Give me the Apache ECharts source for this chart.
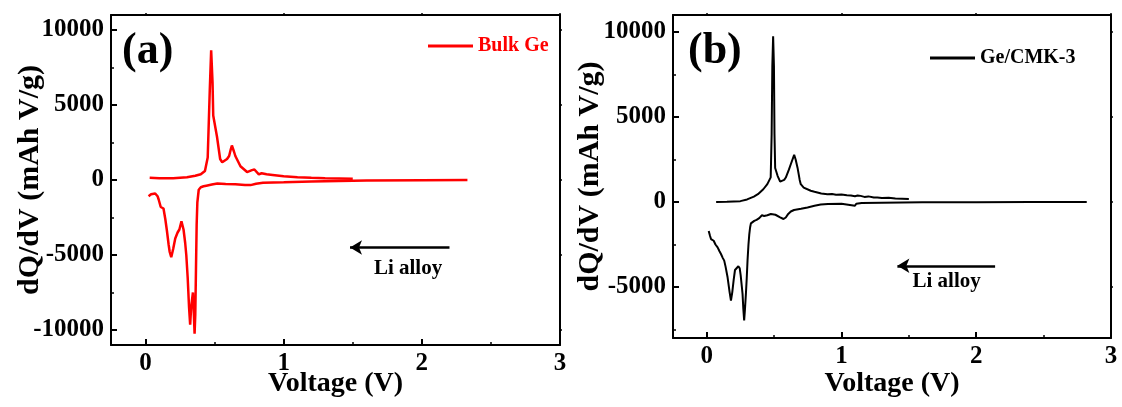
<!DOCTYPE html>
<html><head><meta charset="utf-8">
<script src="https://cdn.jsdelivr.net/npm/echarts@6/dist/echarts.min.js"></script>
<style>html,body{margin:0;padding:0;background:#fff}#c{width:1122px;height:407px}</style>
</head><body><div id="c"></div>
<script>
// ---- Data ----
const xTicks = [0, 1, 2, 3];
const xMinorTicks = [0.5, 1.5, 2.5];
const yTicksA = [-10000, -5000, 0, 5000, 10000];
const yMinorA = [-7500, -2500, 2500, 7500];
const yTicksB = [-5000, 0, 5000, 10000];
const yMinorB = [-7500, -2500, 2500, 7500];

const bulkGeCharge = [[0.03,150],[0.1,120],[0.2,110],[0.3,180],[0.36,280],[0.40,380],[0.43,600],[0.45,1500],[0.465,6000],[0.475,8650],[0.485,6500],[0.49,4300],[0.517,2900],[0.54,1400],[0.555,1180],[0.59,1400],[0.605,1600],[0.617,2050],[0.625,2300],[0.64,1900],[0.65,1600],[0.687,920],[0.735,530],[0.77,660],[0.788,700],[0.82,370],[0.84,450],[0.876,380],[0.92,340],[1.0,250],[1.1,190],[1.2,150],[1.3,120],[1.4,100],[1.5,80]];
const bulkGeDischarge = [[2.33,0],[2.0,-10],[1.6,-30],[1.4,-60],[1.2,-100],[1.0,-150],[0.85,-180],[0.80,-250],[0.76,-340],[0.72,-330],[0.65,-280],[0.58,-260],[0.52,-230],[0.48,-300],[0.44,-380],[0.42,-420],[0.40,-480],[0.385,-650],[0.375,-1500],[0.37,-3000],[0.365,-6000],[0.36,-9000],[0.355,-10250],[0.35,-9000],[0.343,-7500],[0.338,-7400],[0.33,-8500],[0.323,-9650],[0.315,-8500],[0.305,-6500],[0.295,-5000],[0.287,-4200],[0.275,-3300],[0.26,-2750],[0.245,-3300],[0.232,-3500],[0.215,-3900],[0.20,-4600],[0.186,-5150],[0.175,-4800],[0.167,-4300],[0.155,-3400],[0.143,-2600],[0.13,-1900],[0.11,-1800],[0.095,-1300],[0.087,-1080],[0.07,-900],[0.058,-850],[0.04,-950],[0.022,-1080]];

const geCmkCharge = [[0.07,0],[0.15,10],[0.25,50],[0.3,150],[0.35,320],[0.38,460],[0.42,750],[0.45,1050],[0.475,1450],[0.482,4000],[0.487,8000],[0.493,9750],[0.499,8000],[0.503,4000],[0.508,2000],[0.526,1540],[0.545,1200],[0.557,1150],[0.575,1300],[0.587,1440],[0.61,1900],[0.624,2220],[0.649,2770],[0.66,2500],[0.674,2020],[0.69,1300],[0.698,1050],[0.72,850],[0.772,660],[0.80,600],[0.85,500],[0.896,460],[0.93,470],[0.96,430],[1.0,440],[1.04,400],[1.07,380],[1.1,340],[1.12,380],[1.142,360],[1.17,300],[1.2,330],[1.24,260],[1.266,260],[1.3,230],[1.35,250],[1.4,200],[1.45,190],[1.5,170]];
const geCmkDischarge = [[2.82,0],[2.4,-5],[2.0,-10],[1.6,-20],[1.3,-40],[1.15,-60],[1.11,-100],[1.10,-220],[1.09,-110],[1.0,-100],[0.9,-120],[0.846,-150],[0.8,-220],[0.748,-320],[0.7,-400],[0.648,-470],[0.624,-560],[0.605,-700],[0.587,-910],[0.57,-1000],[0.557,-1070],[0.545,-900],[0.532,-820],[0.51,-750],[0.476,-710],[0.45,-780],[0.426,-820],[0.41,-780],[0.39,-950],[0.37,-1050],[0.353,-1110],[0.34,-1150],[0.328,-1260],[0.322,-1500],[0.316,-1900],[0.31,-2500],[0.303,-3450],[0.297,-4500],[0.291,-5400],[0.284,-6300],[0.278,-6970],[0.272,-6300],[0.266,-5400],[0.261,-5000],[0.252,-4300],[0.245,-3900],[0.235,-3780],[0.222,-3750],[0.21,-4000],[0.2,-4600],[0.19,-5300],[0.18,-5800],[0.17,-5300],[0.155,-4430],[0.14,-3800],[0.13,-3450],[0.12,-3300],[0.106,-3060],[0.095,-2900],[0.081,-2670],[0.065,-2500],[0.052,-2280],[0.032,-2180],[0.025,-2000],[0.015,-1700]];

const arrowA = {from: [2.2, -4500], to: [1.48, -4500], text: [1.9, -5900]};
const arrowB = {from: [2.14, -3750], to: [1.415, -3750], text: [1.78, -4700]};

// ---- Chart ----
const FONT = 'Liberation Serif';
const chart = echarts.init(document.getElementById('c'));
const plain = v => String(v);

function xAxes(grid, gap) {
  return [
    {type:'value', gridIndex:grid, min:-0.25, max:3, position:'bottom',
     name:'Voltage (V)', nameLocation:'middle', nameGap:gap, nameMoveOverlap:false,
     nameTextStyle:{fontFamily:FONT, fontWeight:'bold', fontSize:28, color:'#000'},
     axisLine:{onZero:false, lineStyle:{color:'#000', width:2}},
     axisTick:{inside:true, length:6, lineStyle:{width:2, color:'#000'}, customValues:xTicks},
     axisLabel:{fontFamily:FONT, fontWeight:'bold', fontSize:25, color:'#000', margin:6, customValues:xTicks, formatter:plain},
     splitLine:{show:false}},
    {type:'value', gridIndex:grid, min:-0.25, max:3, position:'bottom',
     axisLine:{show:false, onZero:false}, axisLabel:{show:false}, splitLine:{show:false},
     axisTick:{inside:true, length:3, lineStyle:{width:1.5, color:'#000'}, customValues:xMinorTicks}},
    {type:'value', gridIndex:grid, min:-0.25, max:3, position:'top',
     axisLine:{onZero:false, lineStyle:{color:'#000', width:2}}, axisLabel:{show:false}, splitLine:{show:false},
     axisTick:{inside:false, length:2, lineStyle:{width:1.5, color:'#000'}, customValues:xTicks}}
  ];
}
function yAxes(grid, min, max, ticks, minor, gap) {
  return [
    {type:'value', gridIndex:grid, min:min, max:max, position:'left',
     name:'dQ/dV (mAh V/g)', nameLocation:'middle', nameGap:gap, nameMoveOverlap:false,
     nameTextStyle:{fontFamily:FONT, fontWeight:'bold', fontSize:30, color:'#000'},
     axisLine:{onZero:false, lineStyle:{color:'#000', width:2}},
     axisTick:{inside:true, length:6, lineStyle:{width:2, color:'#000'}, customValues:ticks},
     axisLabel:{fontFamily:FONT, fontWeight:'bold', fontSize:25, color:'#000', margin:7, customValues:ticks, formatter:plain},
     splitLine:{show:false}},
    {type:'value', gridIndex:grid, min:min, max:max, position:'left',
     axisLine:{show:false, onZero:false}, axisLabel:{show:false}, splitLine:{show:false},
     axisTick:{inside:true, length:3, lineStyle:{width:1.5, color:'#000'}, customValues:minor}},
    {type:'value', gridIndex:grid, min:min, max:max, position:'right',
     axisLine:{onZero:false, lineStyle:{color:'#000', width:2}}, axisLabel:{show:false}, splitLine:{show:false},
     axisTick:{inside:false, length:2, lineStyle:{width:1.5, color:'#000'}, customValues:ticks}}
  ];
}

function arrowMark(a) {
  return {
    silent:true, symbol:['none','arrow'], symbolSize:[11,12],
    lineStyle:{color:'#000', width:2.5, type:'solid'}, label:{show:false},
    data:[[{coord:a.from}, {coord:a.to}]]
  };
}
function textMark(a) {
  return {
    silent:true, symbol:'circle', symbolSize:0,
    label:{show:true, position:'inside', formatter:'Li alloy', fontFamily:FONT, fontWeight:'bold', fontSize:21, color:'#000'},
    data:[{coord:a.text}]
  };
}

const option = {
  animation:false,
  backgroundColor:'#fff',
  title:[
    {text:'(a)', left:117, top:25, textStyle:{fontFamily:FONT, fontWeight:'bold', fontSize:44, color:'#000'}},
    {text:'(b)', left:683, top:25, textStyle:{fontFamily:FONT, fontWeight:'bold', fontSize:44, color:'#000'}}
  ],
  legend:[
    {data:['Bulk Ge'], left:423, top:31, icon:'rect', itemWidth:45, itemHeight:3, itemGap:4,
     textStyle:{fontFamily:FONT, fontWeight:'bold', fontSize:20, color:'#ff0000'}},
    {data:['Ge/CMK-3'], left:925, top:43, icon:'rect', itemWidth:45, itemHeight:3, itemGap:3,
     textStyle:{fontFamily:FONT, fontWeight:'bold', fontSize:20, color:'#000'}}
  ],
  grid:[
    {left:111, top:15, width:449, height:330},
    {left:673, top:15, width:438, height:323}
  ],
  xAxis:[...xAxes(0, 25), ...xAxes(1, 32)],
  yAxis:[...yAxes(0, -11000, 11000, yTicksA, yMinorA, 66), ...yAxes(1, -8000, 11000, yTicksB, yMinorB, 68)],
  series:[
    {name:'Bulk Ge', type:'line', xAxisIndex:0, yAxisIndex:0, data:bulkGeCharge, showSymbol:false, symbol:'none',
     lineStyle:{color:'#ff0000', width:2.5}, itemStyle:{color:'#ff0000'}},
    {name:'Bulk Ge', type:'line', xAxisIndex:0, yAxisIndex:0, data:bulkGeDischarge, showSymbol:false, symbol:'none',
     lineStyle:{color:'#ff0000', width:2.5}, itemStyle:{color:'#ff0000'},
     markLine:arrowMark(arrowA), markPoint:textMark(arrowA)},
    {name:'Ge/CMK-3', type:'line', xAxisIndex:3, yAxisIndex:3, data:geCmkCharge, showSymbol:false, symbol:'none',
     lineStyle:{color:'#000', width:2}, itemStyle:{color:'#000'}},
    {name:'Ge/CMK-3', type:'line', xAxisIndex:3, yAxisIndex:3, data:geCmkDischarge, showSymbol:false, symbol:'none',
     lineStyle:{color:'#000', width:2}, itemStyle:{color:'#000'},
     markLine:arrowMark(arrowB), markPoint:textMark(arrowB)}
  ]
};
chart.setOption(option);
</script></body></html>
